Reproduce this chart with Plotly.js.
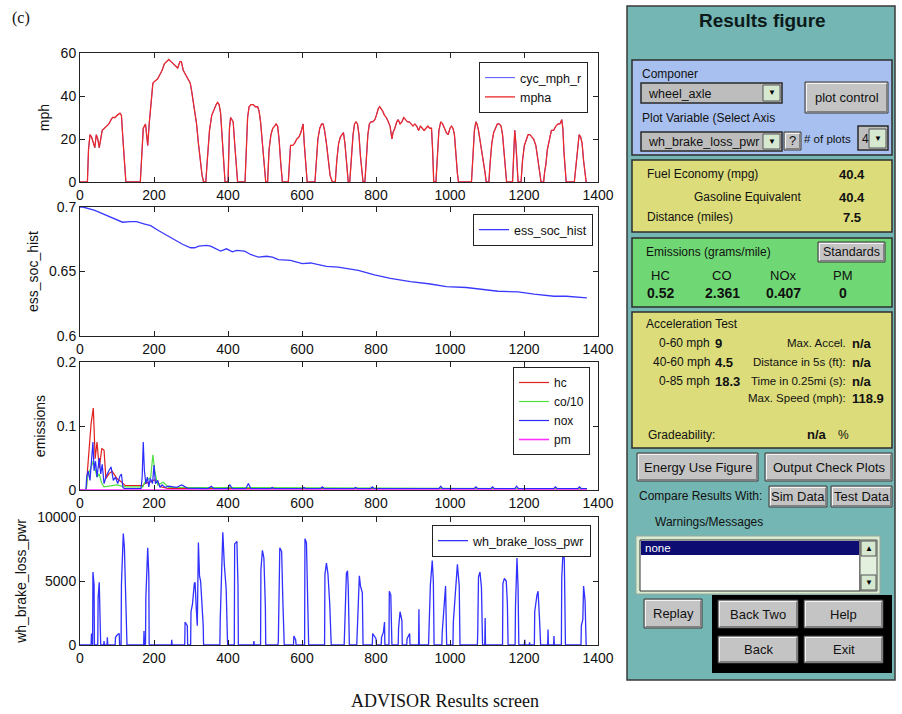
<!DOCTYPE html>
<html>
<head>
<meta charset="utf-8">
<script src="https://cdn.plot.ly/plotly-3.0.1.min.js"></script>
<style>html,body{margin:0;padding:0;background:#fff}#chart{width:902px;height:714px}</style>
</head>
<body>
<div id="chart"></div>
<script>
// ---------------- DATA ----------------
// Vehicle speed (mph) vs time (s)
const mph_t = [0,20,23,27,31,36,40,44,48,52,56,60,66,72,78,84,88,95,100,108,112,116,120,124,163,167,171,174,177,180,183,187,192,197,203,210,216,222,228,234,240,246,252,258,264,270,274,279,285,292,298,302,308,315,320,325,330,334,340,344,350,356,362,368,372,376,380,384,388,392,400,404,407,410,414,418,422,426,446,449,453,457,462,468,474,480,484,488,493,498,502,507,511,516,521,526,530,534,538,542,547,563,566,569,575,580,586,592,597,600,603,606,610,614,635,639,643,648,653,657,661,666,671,676,682,690,694,699,704,708,712,716,720,725,729,733,738,742,746,750,754,758,762,765,770,774,778,782,786,791,797,801,806,810,814,818,823,828,833,838,843,846,851,856,860,865,870,875,880,885,890,895,900,905,910,915,920,925,930,935,940,945,950,953,956,962,965,970,975,980,985,990,995,1000,1004,1008,1012,1016,1020,1023,1058,1062,1066,1070,1073,1077,1081,1085,1089,1092,1095,1098,1105,1109,1113,1118,1123,1128,1133,1138,1142,1146,1150,1153,1169,1172,1175,1178,1181,1184,1192,1196,1201,1206,1211,1216,1221,1226,1232,1237,1242,1246,1253,1256,1259,1263,1268,1274,1280,1286,1292,1297,1302,1305,1308,1311,1314,1336,1340,1344,1349,1353,1357,1361,1365,1368,1370];
const mph_v = [0,0,15,22,21,18,16,22,20,16,20,24,25,26,27,29,30,30,31,32,31,20,8,0,0,15,25,26,27,22,17,27,38,46,47,48,50,52,55,56,57,56,55,54,53,56,56,52,50,48,46,42,35,27,18,10,3,0,0,10,24,31,34,36,37,36,32,22,10,0,0,25,30,29,28,18,8,0,0,15,30,35,36,36,35,35,33,28,18,8,0,0,15,22,25,26,27,26,20,10,0,0,12,17,17,18,20,21,23,25,27,18,6,0,0,10,20,25,27,27,24,18,10,3,0,0,10,18,21,22,23,18,8,0,0,12,22,27,28,27,22,12,4,0,0,12,22,27,28,28,29,31,34,35,34,33,31,30,28,26,20,23,25,28,29,27,28,30,29,28,28,27,26,27,26,24,26,25,24,25,26,25,25,15,0,0,12,24,28,27,25,23,22,25,26,25,22,12,4,0,0,12,24,28,27,24,20,15,10,9,4,0,0,10,18,23,25,27,27,26,22,14,5,0,0,12,24,18,6,0,0,10,17,20,22,22,21,20,17,12,5,0,0,5,8,15,20,24,24,26,27,27,29,25,14,5,0,0,8,16,22,21,18,10,3,0,0];

// Battery state of charge
const soc_t = [0,8,40,72,105,115,137,153,175,191,213,245,277,299,310,321,342,353,380,396,412,423,445,461,482,504,520,536,569,601,623,666,698,752,796,839,893,947,990,1044,1087,1130,1184,1227,1281,1314,1370];
const soc_v = [0.700,0.700,0.6974,0.6934,0.6895,0.6882,0.6887,0.6887,0.6868,0.6855,0.6816,0.6763,0.6711,0.6684,0.6684,0.6697,0.6703,0.6697,0.6658,0.6676,0.6653,0.6663,0.6658,0.6632,0.6611,0.6618,0.6611,0.6592,0.6587,0.6561,0.6566,0.6539,0.6534,0.6508,0.6474,0.6447,0.6421,0.6403,0.6382,0.6376,0.6361,0.6347,0.6342,0.6324,0.6308,0.6308,0.6295];

// Emissions
const hc_t = [0,17,20,25,30,36,41,46,52,59,65,70,79,87,100,111,122,170,175,191,202,218,240,1370];
const hc_v = [0,0,0.029,0.062,0.104,0.128,0.049,0.075,0.034,0.065,0.062,0.018,0.026,0.029,0.018,0.013,0.007,0.007,0.010,0.013,0.016,0.005,0.002,0.002];
const co_t = [0,17,20,30,36,46,52,59,65,100,122,170,175,191,197,202,210,225,240,1370];
const co_v = [0,0,0.020,0.035,0.045,0.020,0.025,0.010,0.005,0.008,0.005,0.005,0.012,0.020,0.055,0.030,0.008,0.012,0.004,0.002];
const nox_t = [0,16,18,22,27,32,35,38,42,46,52,56,60,65,70,78,84,90,96,102,108,112,116,120,165,168,171,174,178,182,186,190,196,200,204,210,216,222,230,240,260,275,290,345,355,362,398,405,412,448,455,462,515,520,525,600,605,610,650,655,660,740,745,750,785,790,795,970,975,980,1065,1070,1075,1110,1115,1120,1175,1180,1185,1280,1285,1290,1345,1350,1355,1370];
const nox_v = [0,0,0.020,0.030,0.015,0.060,0.075,0.030,0.045,0.020,0.050,0.025,0.040,0.010,0.020,0.030,0.036,0.015,0.020,0.010,0.022,0.025,0.004,0.002,0.002,0.020,0.075,0.030,0.010,0.020,0.005,0.018,0.010,0.039,0.010,0.015,0.004,0.008,0.004,0.006,0.004,0.008,0.003,0.002,0.006,0.002,0.002,0.008,0.002,0.002,0.010,0.002,0.002,0.004,0.002,0.002,0.004,0.002,0.002,0.005,0.002,0.002,0.004,0.002,0.002,0.005,0.002,0.002,0.006,0.002,0.002,0.005,0.002,0.002,0.005,0.002,0.002,0.006,0.002,0.002,0.005,0.002,0.002,0.005,0.002,0.002];
const pm_t = [0,1370];
const pm_v = [0,0];

// Wheel brake loss power (W)
const brk_t = [0,30,31,32,34,35,38,39,48,49,52,55,56,64,65,66,73,74,75,95,96,101,106,107,111,112,117,120,123,126,127,172,173,174,177,178,183,186,187,247,248,249,283,284,288,290,291,299,300,304,309,311,314,317,320,323,326,329,333,334,378,379,382,386,390,395,398,399,417,418,424,427,428,469,470,471,488,489,493,497,501,502,535,536,540,545,548,551,552,577,578,583,584,607,608,612,614,617,618,661,662,666,670,675,678,679,714,715,720,723,725,728,748,749,755,758,763,765,790,791,800,801,814,815,820,823,824,835,836,840,843,860,861,865,870,871,883,884,891,892,915,916,917,942,943,947,952,955,957,978,979,988,991,1008,1009,1015,1020,1025,1027,1074,1075,1077,1081,1085,1088,1094,1095,1096,1142,1143,1147,1152,1155,1157,1176,1177,1181,1184,1186,1201,1202,1203,1214,1215,1216,1228,1229,1235,1238,1242,1245,1264,1265,1266,1280,1281,1282,1301,1302,1306,1309,1312,1354,1355,1359,1361,1365,1368,1370];
const brk_w = [0,0,900,0,0,5700,4700,0,0,3700,4900,1100,0,0,300,0,0,600,0,0,600,800,900,0,0,4700,8700,7600,4700,1400,0,0,1100,0,0,3700,7600,5400,0,0,400,0,0,1800,1600,1500,0,0,2600,3200,4800,4900,3000,1500,8000,5400,5000,3600,1500,0,0,2000,6000,8800,6300,4400,1000,0,0,7900,8100,4700,0,0,300,0,0,5900,7400,6800,3000,0,0,300,7600,7300,3700,500,0,0,700,400,0,0,8300,8000,4900,500,0,0,5500,6400,5600,3200,500,0,0,800,5600,5800,4500,0,0,800,5400,4600,4100,0,0,900,500,0,0,600,1000,1800,0,0,4200,3900,0,0,1300,2600,1900,0,0,500,900,0,0,2800,0,0,1000,4700,6600,5000,0,0,1000,4600,0,0,1800,4500,6300,4600,0,0,1000,5300,5700,4500,0,0,2100,0,0,4800,5200,5000,3300,0,0,3000,6800,4500,0,0,400,0,0,200,0,0,2600,3900,4200,2000,0,0,1200,0,0,700,0,0,5200,7600,6600,0,0,1500,2000,4600,3500,0,0];

// Texts
const legendNames = {cyc:'cyc_mph_r', mpha:'mpha', soc:'ess_soc_hist', hc:'hc', co:'co/10', nox:'nox', pm:'pm', brk:'wh_brake_loss_pwr'};
const yTitles = ['mph','ess_soc_hist','emissions','wh_brake_loss_pwr'];

// ---------------- LAYOUT ----------------
const W = 902, H = 714;
const FONT = 'Arial, "Liberation Sans", sans-serif';
const SERIF = '"Times New Roman", "Liberation Serif", serif';
const px = x => x / W;
const py = y => 1 - y / H;

const xDom = [px(80), px(598)];
const rows = [[53,182],[207,336],[362,490],[517,645]];

function xAx(anchor){
  return {domain:xDom, anchor:anchor, range:[0,1400], dtick:200, tick0:0, ticks:'inside', ticklen:5, tickcolor:'#222',
    showline:true, mirror:'ticks', linecolor:'#222', linewidth:1, showgrid:false, zeroline:false,
    tickfont:{family:FONT,size:14,color:'#111'}, fixedrange:true};
}
function yAx(anchor, row, range, dtick, title, fmt){
  const o = {domain:[py(row[1]), py(row[0])], anchor:anchor, range:range, dtick:dtick, tick0:range[0], ticks:'inside', ticklen:5, tickcolor:'#222',
    showline:true, mirror:'ticks', linecolor:'#222', linewidth:1, showgrid:false, zeroline:false,
    tickfont:{family:FONT,size:14,color:'#111'}, title:{text:title, font:{family:FONT,size:14,color:'#111'}, standoff:7}, fixedrange:true};
  if (fmt) o.tickformat = fmt;
  return o;
}

const traces = [
  {x:mph_t, y:mph_v, xaxis:'x', yaxis:'y', type:'scatter', mode:'lines', name:legendNames.cyc, line:{color:'#5050ff',width:1}, legend:'legend'},
  {x:mph_t, y:mph_v, xaxis:'x', yaxis:'y', type:'scatter', mode:'lines', name:legendNames.mpha, line:{color:'#ec2a2a',width:1.3}, legend:'legend'},
  {x:soc_t, y:soc_v, xaxis:'x2', yaxis:'y2', type:'scatter', mode:'lines', name:legendNames.soc, line:{color:'#3a3aff',width:1.3}, legend:'legend2'},
  {x:hc_t, y:hc_v, xaxis:'x3', yaxis:'y3', type:'scatter', mode:'lines', name:legendNames.hc, line:{color:'#e02020',width:1.2}, legend:'legend3'},
  {x:co_t, y:co_v, xaxis:'x3', yaxis:'y3', type:'scatter', mode:'lines', name:legendNames.co, line:{color:'#50e040',width:1.2}, legend:'legend3'},
  {x:nox_t, y:nox_v, xaxis:'x3', yaxis:'y3', type:'scatter', mode:'lines', name:legendNames.nox, line:{color:'#2a2aff',width:1.2}, legend:'legend3'},
  {x:pm_t, y:pm_v, xaxis:'x3', yaxis:'y3', type:'scatter', mode:'lines', name:legendNames.pm, line:{color:'#ff30ff',width:1.6}, legend:'legend3'},
  {x:brk_t, y:brk_w, xaxis:'x4', yaxis:'y4', type:'scatter', mode:'lines', name:legendNames.brk, line:{color:'#3030ff',width:1.3}, legend:'legend4'}
];

function leg(xr, ytop, size){
  return {x:px(xr), y:py(ytop), xanchor:'right', yanchor:'top', bgcolor:'#ffffff', bordercolor:'#222', borderwidth:1,
    font:{family:FONT,size:size||12,color:'#111'}, tracegroupgap:0, itemwidth:30, traceorder:'normal', itemclick:false, itemdoubleclick:false};
}

// ---------- right-side GUI panel ----------
const shapes = [];
const ann = [];
function rect(x0,y0,x1,y1,fill,line,lw){
  shapes.push({type:'rect', xref:'paper', yref:'paper', x0:px(x0), x1:px(x1), y0:py(y1), y1:py(y0),
    fillcolor:fill, line:{color:line||fill, width:(lw===undefined?1:lw)}, layer:'above'});
}
function lineP(x0,y0,x1,y1,color,w){
  shapes.push({type:'line', xref:'paper', yref:'paper', x0:px(x0), x1:px(x1), y0:py(y0), y1:py(y1), line:{color:color,width:w||1}, layer:'above'});
}
function txt(x,y,s,opt){
  opt = opt || {};
  ann.push({xref:'paper', yref:'paper', x:px(x), y:py(y), text:s, showarrow:false,
    xanchor:opt.anchor||'left', yanchor:'middle',
    font:{family:opt.family||FONT, size:opt.size||12, color:opt.color||'#111', weight:opt.bold?'bold':'normal'}});
}
function button(x0,y0,x1,y1,label,size){
  rect(x0,y0,x1,y1,'#c4c4c4','#3a3a3a',1);
  lineP(x0+1.5,y0+1.5,x1-2,y0+1.5,'#f4f4f4',1);
  lineP(x0+1.5,y0+1.5,x0+1.5,y1-2,'#f4f4f4',1);
  lineP(x0+2,y1-1.5,x1-1.5,y1-1.5,'#808080',1);
  lineP(x1-1.5,y0+2,x1-1.5,y1-1.5,'#808080',1);
  if (label) txt((x0+x1)/2,(y0+y1)/2,label,{anchor:'center',size:size||13});
}
function arrowBtn(x0,y0,x1,y1,glyph){
  rect(x0,y0,x1,y1,'#d6e8d0','#555',1);
  txt((x0+x1)/2,(y0+y1)/2,glyph,{anchor:'center',size:8,color:'#000'});
}
function dropdown(x0,y0,x1,y1,label){
  rect(x0,y0,x1,y1,'#bdbdbd','#2a2a2a',1.5);
  txt(x0+5,(y0+y1)/2+1,label,{size:12.5});
  arrowBtn(x1-19,y0+2,x1-2,y1-2,'▼');
}

// outer teal frame
rect(627,6,895,680,'#74b6b3','#3a3a3a',1.5);
txt(762,20,'Results figure',{anchor:'center',size:19,bold:true,color:'#0c1a1a'});

// component selector (blue)
rect(632,60,892,155,'#a8c0ef','#2e2e2e',1.5);
txt(640,74,'Componer',{size:12});
dropdown(641,83,782,103,'wheel_axle');
button(805,82,888,113,'plot control',13);
txt(640,118,'Plot Variable (Select Axis',{size:12});
dropdown(641,132,782,151,'wh_brake_loss_pwr');
button(784,132,801,150,'?',13);
txt(802,139,'# of plots',{size:11.5});
rect(858,126,888,150,'#bdbdbd','#2a2a2a',1.5);
txt(860,139,'4',{size:12});
arrowBtn(869,129,886,148,'▼');

// fuel economy (yellow)
rect(632,160,892,232,'#dcdc7a','#2e2e2e',1.5);
txt(645,174,'Fuel Economy (mpg)',{size:12});
txt(852,174,'40.4',{anchor:'center',size:13,bold:true});
txt(747,197,'Gasoline Equivalent',{anchor:'center',size:12});
txt(852,197,'40.4',{anchor:'center',size:13,bold:true});
txt(645,217,'Distance (miles)',{size:12});
txt(852,217,'7.5',{anchor:'center',size:13,bold:true});

// emissions (green)
rect(632,238,892,307,'#6fd874','#2e2e2e',1.5);
txt(644,252,'Emissions (grams/mile)',{size:12});
button(818,242,885,262,'Standards',12.5);
const emisLab = ['HC','CO','NOx','PM'];
const emisVal = ['0.52','2.361','0.407','0'];
const emisX = [660,722,783,843];
emisLab.forEach((s,i)=>{ txt(emisX[i],276,s,{anchor:'center',size:13}); txt(emisX[i],293,emisVal[i],{anchor:'center',size:14,bold:true}); });

// acceleration test (yellow)
rect(632,312,892,448,'#dcdc7a','#2e2e2e',1.5);
txt(644,324,'Acceleration Test',{size:12});
const accL = ['0-60 mph','40-60 mph','0-85 mph'];
const accLV = ['9','4.5','18.3'];
const accR = ['Max. Accel.','Distance in 5s (ft):','Time in 0.25mi (s):','Max. Speed (mph):'];
const accRV = ['n/a','n/a','n/a','118.9'];
const accY = [343,362,381,398];
accL.forEach((s,i)=>{ txt(712,accY[i],s,{anchor:'right',size:12}); txt(713,accY[i],accLV[i],{size:13,bold:true}); });
accR.forEach((s,i)=>{ txt(848,accY[i],s,{anchor:'right',size:11.5}); txt(850,accY[i],accRV[i],{size:13,bold:true}); });
txt(646,435,'Gradeability:',{size:12});
txt(817,435,'n/a',{anchor:'center',size:13,bold:true});
txt(843,435,'%',{anchor:'center',size:12});

// buttons
button(637,453,758,481,'Energy Use Figure',13);
button(765,453,892,481,'Output Check Plots',13);
txt(637,496,'Compare Results With:',{size:12});
button(769,486,827,507,'Sim Data',13);
button(831,486,892,507,'Test Data',13);
txt(653,522,'Warnings/Messages',{size:12});

// message list box
rect(636,536,880,594,'#d9ecd2','#9aa89a',1);
rect(640,540,860,591,'#ffffff','#303030',1);
rect(641,541,859,555,'#0c0c72','#0c0c72',0);
txt(643,548,'none',{size:11.5,color:'#ffffff'});
rect(860,540,877,591,'#e3f0de','#555',1);
arrowBtn(861,541,876,556,'▲');
arrowBtn(861,575,876,590,'▼');

// navigation
rect(712,595,892,673,'#000000','#000000',0);
button(644,599,702,628,'Replay',13);
button(718,600,798,628,'Back Two',13);
button(804,600,883,628,'Help',13);
button(718,636,798,663,'Back',13);
button(804,636,883,663,'Exit',13);

// caption and figure tag
txt(10,18,'(c)',{family:SERIF,size:16});
txt(445,701,'ADVISOR Results screen',{anchor:'center',family:SERIF,size:18});

const layout = {
  width:W, height:H, margin:{l:0,r:0,t:0,b:0}, paper_bgcolor:'#ffffff', plot_bgcolor:'#ffffff',
  font:{family:FONT,size:13,color:'#111'}, showlegend:true,
  xaxis:xAx('y'), xaxis2:xAx('y2'), xaxis3:xAx('y3'), xaxis4:xAx('y4'),
  yaxis:yAx('x', rows[0], [0,60], 20, yTitles[0]),
  yaxis2:yAx('x2', rows[1], [0.6,0.7], 0.05, yTitles[1]),
  yaxis3:yAx('x3', rows[2], [0,0.2], 0.1, yTitles[2]),
  yaxis4:yAx('x4', rows[3], [0,10000], 5000, yTitles[3], 'd'),
  legend:leg(588,62,12.5), legend2:leg(593,214,12.5), legend3:leg(590,367,12), legend4:leg(591,525,12.5),
  shapes:shapes, annotations:ann
};

Plotly.newPlot('chart', traces, layout, {displayModeBar:false, staticPlot:true});
</script>
</body>
</html>
